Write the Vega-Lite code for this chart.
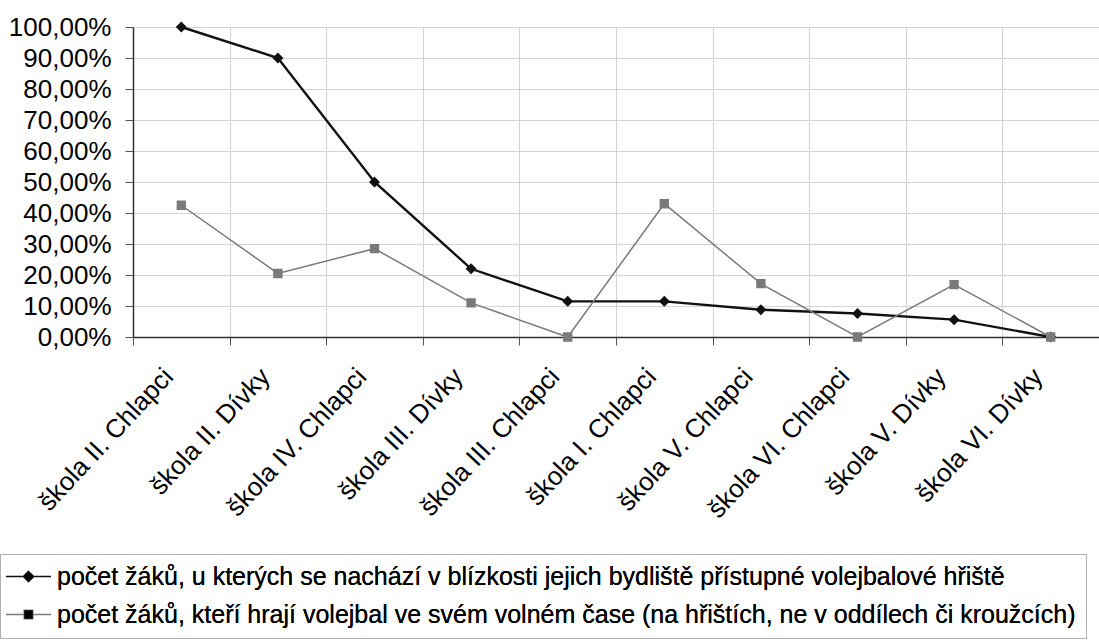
{
  "$schema": "https://vega.github.io/schema/vega-lite/v6.json",
  "width": 966,
  "height": 310,
  "autosize": {"type": "none"},
  "padding": {"left": 133, "top": 27, "right": 0, "bottom": 304},
  "background": "white",
  "config": {"view": {"stroke": null}, "font": "Liberation Sans"},
  "data": {"values": [
    {"skola": "škola II. Chlapci", "serie": "počet žáků, u kterých se nachází v blízkosti jejich bydliště přístupné volejbalové hřiště", "hodnota": 1.0},
    {"skola": "škola II. Dívky", "serie": "počet žáků, u kterých se nachází v blízkosti jejich bydliště přístupné volejbalové hřiště", "hodnota": 0.9},
    {"skola": "škola IV. Chlapci", "serie": "počet žáků, u kterých se nachází v blízkosti jejich bydliště přístupné volejbalové hřiště", "hodnota": 0.5},
    {"skola": "škola III. Dívky", "serie": "počet žáků, u kterých se nachází v blízkosti jejich bydliště přístupné volejbalové hřiště", "hodnota": 0.22},
    {"skola": "škola III. Chlapci", "serie": "počet žáků, u kterých se nachází v blízkosti jejich bydliště přístupné volejbalové hřiště", "hodnota": 0.115},
    {"skola": "škola I. Chlapci", "serie": "počet žáků, u kterých se nachází v blízkosti jejich bydliště přístupné volejbalové hřiště", "hodnota": 0.115},
    {"skola": "škola V. Chlapci", "serie": "počet žáků, u kterých se nachází v blízkosti jejich bydliště přístupné volejbalové hřiště", "hodnota": 0.088},
    {"skola": "škola VI. Chlapci", "serie": "počet žáků, u kterých se nachází v blízkosti jejich bydliště přístupné volejbalové hřiště", "hodnota": 0.076},
    {"skola": "škola V. Dívky", "serie": "počet žáků, u kterých se nachází v blízkosti jejich bydliště přístupné volejbalové hřiště", "hodnota": 0.056},
    {"skola": "škola VI. Dívky", "serie": "počet žáků, u kterých se nachází v blízkosti jejich bydliště přístupné volejbalové hřiště", "hodnota": 0.0},
    {"skola": "škola II. Chlapci", "serie": "počet žáků, kteří hrají volejbal ve svém volném čase (na hřištích, ne v oddílech či kroužcích)", "hodnota": 0.425},
    {"skola": "škola II. Dívky", "serie": "počet žáků, kteří hrají volejbal ve svém volném čase (na hřištích, ne v oddílech či kroužcích)", "hodnota": 0.205},
    {"skola": "škola IV. Chlapci", "serie": "počet žáků, kteří hrají volejbal ve svém volném čase (na hřištích, ne v oddílech či kroužcích)", "hodnota": 0.285},
    {"skola": "škola III. Dívky", "serie": "počet žáků, kteří hrají volejbal ve svém volném čase (na hřištích, ne v oddílech či kroužcích)", "hodnota": 0.11},
    {"skola": "škola III. Chlapci", "serie": "počet žáků, kteří hrají volejbal ve svém volném čase (na hřištích, ne v oddílech či kroužcích)", "hodnota": 0.0},
    {"skola": "škola I. Chlapci", "serie": "počet žáků, kteří hrají volejbal ve svém volném čase (na hřištích, ne v oddílech či kroužcích)", "hodnota": 0.43},
    {"skola": "škola V. Chlapci", "serie": "počet žáků, kteří hrají volejbal ve svém volném čase (na hřištích, ne v oddílech či kroužcích)", "hodnota": 0.172},
    {"skola": "škola VI. Chlapci", "serie": "počet žáků, kteří hrají volejbal ve svém volném čase (na hřištích, ne v oddílech či kroužcích)", "hodnota": 0.0},
    {"skola": "škola V. Dívky", "serie": "počet žáků, kteří hrají volejbal ve svém volném čase (na hřištích, ne v oddílech či kroužcích)", "hodnota": 0.169},
    {"skola": "škola VI. Dívky", "serie": "počet žáků, kteří hrají volejbal ve svém volném čase (na hřištích, ne v oddílech či kroužcích)", "hodnota": 0.0}
  ]},
  "encoding": {
    "x": {
      "field": "skola", "type": "nominal",
      "sort": ["škola II. Chlapci", "škola II. Dívky", "škola IV. Chlapci", "škola III. Dívky", "škola III. Chlapci", "škola I. Chlapci", "škola V. Chlapci", "škola VI. Chlapci", "škola V. Dívky", "škola VI. Dívky"],
      "scale": {"type": "band", "paddingInner": 0, "paddingOuter": 0},
      "axis": {
        "title": null, "grid": true, "tickBand": "extent",
        "gridColor": "#d4d4d4", "gridWidth": 1,
        "domainColor": "#333333", "domainWidth": 1.5,
        "tickColor": "#555555", "tickSize": 8, "tickWidth": 1,
        "labelAngle": -47, "labelFontSize": 26, "labelColor": "#000000",
        "labelPadding": 27, "labelOffset": -13, "labelLimit": 400, "labelFont": "Liberation Sans"
      }
    },
    "y": {
      "field": "hodnota", "type": "quantitative",
      "scale": {"domain": [0, 1], "nice": false},
      "axis": {
        "title": null, "values": [0, 0.1, 0.2, 0.3, 0.4, 0.5, 0.6, 0.7, 0.8, 0.9, 1.0],
        "labelExpr": "replace(format(datum.value, '.2%'), '.', ',')",
        "gridColor": "#d4d4d4", "gridWidth": 1,
        "domainColor": "#333333", "domainWidth": 1.5,
        "tickColor": "#555555", "tickSize": 8,
        "labelFontSize": 26, "labelColor": "#000000", "labelPadding": 14,
        "labelFont": "Liberation Sans"
      }
    },
    "color": {
      "field": "serie", "type": "nominal",
      "sort": ["počet žáků, u kterých se nachází v blízkosti jejich bydliště přístupné volejbalové hřiště", "počet žáků, kteří hrají volejbal ve svém volném čase (na hřištích, ne v oddílech či kroužcích)"],
      "scale": {"range": ["#111111", "#7a7a7a"]},
      "legend": {
        "orient": "none", "legendX": -133, "legendY": 527,
        "direction": "vertical", "title": null,
        "labelFontSize": 25, "labelFont": "Liberation Sans", "labelColor": "#000000", "labelLimit": 2000,
        "symbolSize": 100, "symbolOffset": 6, "labelOffset": 16, "rowPadding": 12, "padding": 10,
        "strokeColor": "#b0b0b0",
        "encode": {
          "symbols": {"update": {"shape": {"scale": "shape", "field": "value"}, "stroke": {"scale": "color", "field": "value"}, "strokeWidth": {"value": 1.6}, "fill": {"scale": "color", "field": "value"}, "opacity": {"value": 1}}},
          "legend": {"update": {"strokeDash": {"value": [2, 3]}}}
        }
      }
    }
  },
  "layer": [
    {
      "mark": {"type": "line"},
      "encoding": {
        "strokeWidth": {"field": "serie", "type": "nominal", "scale": {"range": [2.4, 1.5]}, "legend": null,
          "sort": ["počet žáků, u kterých se nachází v blízkosti jejich bydliště přístupné volejbalové hřiště", "počet žáků, kteří hrají volejbal ve svém volném čase (na hřištích, ne v oddílech či kroužcích)"]}
      }
    },
    {
      "mark": {"type": "point", "filled": true, "size": 121, "opacity": 1},
      "encoding": {
        "shape": {
          "field": "serie", "type": "nominal",
          "sort": ["počet žáků, u kterých se nachází v blízkosti jejich bydliště přístupné volejbalové hřiště", "počet žáků, kteří hrají volejbal ve svém volném čase (na hřištích, ne v oddílech či kroužcích)"],
          "scale": {"range": ["M-4.5,0H4.5M0,-1L1,0L0,1L-1,0Z", "M-4.5,0H4.5M-0.85,-0.85H0.85V0.85H-0.85Z"]},
          "legend": {
            "orient": "none", "legendX": -133, "legendY": 527,
            "direction": "vertical", "title": null,
            "labelFontSize": 25, "labelFont": "Liberation Sans", "labelColor": "#000000", "labelLimit": 2000,
            "symbolSize": 100, "symbolOffset": 6, "labelOffset": 16, "rowPadding": 12, "padding": 10,
            "strokeColor": "#b0b0b0",
            "encode": {
              "symbols": {"update": {"shape": {"scale": "shape", "field": "value"}, "stroke": {"scale": "color", "field": "value"}, "strokeWidth": {"value": 1.6}, "fill": {"scale": "color", "field": "value"}, "opacity": {"value": 1}}},
              "legend": {"update": {"strokeDash": {"value": [2, 3]}}}
            }
          }
        }
      }
    }
  ]
}
